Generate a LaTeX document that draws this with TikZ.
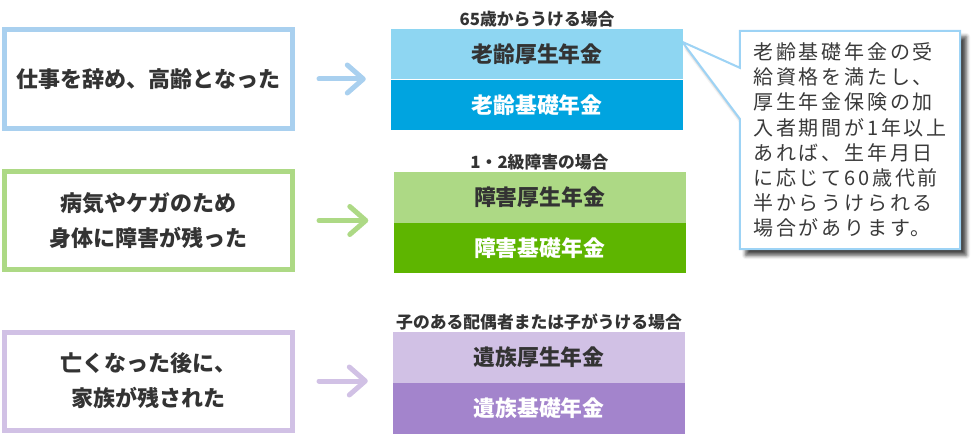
\documentclass[tikz,border=0pt]{standalone}
\usepackage{fontspec}
\newfontfamily\jp{Noto Sans CJK JP}
\usetikzlibrary{calc,arrows.meta,backgrounds,shadows.blur}

\definecolor{inkgray}{HTML}{333333}
\definecolor{memogray}{HTML}{3A3A3A}
\definecolor{oldline}{HTML}{A9D0EF}
\definecolor{oldlight}{HTML}{8ED6F2}
\definecolor{olddark}{HTML}{00A4E0}
\definecolor{sickline}{HTML}{ADD985}
\definecolor{sickdark}{HTML}{5EB500}
\definecolor{famline}{HTML}{D1C1E5}
\definecolor{famdark}{HTML}{A384CC}
\definecolor{memoline}{HTML}{9DD3F5}

\begin{document}
\begin{tikzpicture}[x=1pt, y=-1pt, every node/.style={font=\jp, text=inkgray}]

		\useasboundingbox (0,0) rectangle (978,436);
		\tikzset{
			cause/.style={draw=#1, line width=5pt, fill=white, minimum width=288pt, minimum height=98pt, inner sep=0pt, align=center, font=\jp\bfseries\fontsize{22}{35}\selectfont},
			upper/.style={fill=#1, minimum width=292pt, minimum height=50.5pt, inner sep=0pt, font=\jp\bfseries\fontsize{21.8}{25}\selectfont},
			lower/.style={upper=#1, anchor=north, text=white},
			case/.style={anchor=south, inner sep=1.5pt, font=\jp\bfseries\fontsize{16.8}{19}\selectfont},
			go/.style={draw=#1, line width=5pt, line cap=round, -{Straight Barb[length=16pt, width=28pt, line cap=round, line join=round]}, shorten <=24pt, shorten >=25pt},
			memo/.style={minimum width=220pt, minimum height=218pt, inner sep=0pt, align=left, text=memogray, font=\jp\fontsize{20}{25.2}\selectfont\addfontfeature{LetterSpace=14}}
		}

		% retirement
		\node[cause=oldline] (retire) at (148.5,79) {仕事を辞め、高齢となった};
		\node[upper=oldlight] (oldKosei) at (537,54.25) {老齢厚生年金};
		\node[lower=olddark] (oldKiso) at (oldKosei.south) {老齢基礎年金};
		\node[case] (oldCase) at (oldKosei.north) {65歳からうける場合};

		% disability
		\node[cause=sickline] (sick) at (148.5,220.5) {病気やケガのため\\身体に障害が残った};
		\node[upper=sickline] (sickKosei) at (539.5,197.25) {障害厚生年金};
		\node[lower=sickdark] (sickKiso) at (sickKosei.south) {障害基礎年金};
		\node[case] (sickCase) at (sickKosei.north) {1・2級障害の場合};

		% survivors
		\node[cause=famline] (widow) at (148.5,381) {亡くなった後に、\\家族が残された};
		\node[upper=famline] (famKosei) at (539,357.5) {遺族厚生年金};
		\node[lower=famdark] (famKiso) at (famKosei.south) {遺族基礎年金};
		\node[case] (famCase) at (famKosei.north) {子のある配偶者または子がうける場合};

		\foreach \from/\to/\col in {retire/oldKosei/oldline, sick/sickKosei/sickline, widow/famKosei/famline}{\draw[go=\col] (\from.east) -- (\from.east -| \to.west);}

		% note on the early pension
		\node[memo] (note) at (850,140) {老齢基礎年金の受\\給資格を満たし、\\厚生年金保険の加\\入者期間が1年以上\\あれば、生年月日\\に応じて60歳代前\\半からうけられる\\場合があります。};
		\coordinate (tip) at ($(oldKosei.north east)+(-1,13)$);
		\begin{scope}[on background layer]
			\draw[memoline, line width=2pt, fill=white, blur shadow={shadow xshift=6pt, shadow yshift=-6pt, shadow blur radius=4pt, shadow opacity=75}]
				(note.north west) -- (note.north east) -- (note.south east) -- (note.south west)
				-- ($(note.north west)+(0,88)$) -- (tip) -- ($(note.north west)+(0,37)$) -- cycle;
		\end{scope}
	\end{tikzpicture}
\end{document}
